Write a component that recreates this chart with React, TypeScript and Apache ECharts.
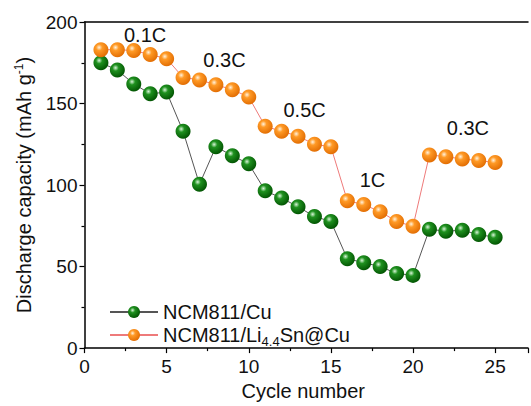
import React, { useEffect, useRef } from "react";
import * as echarts from "echarts";

const cycles = [1, 2, 3, 4, 5, 6, 7, 8, 9, 10, 11, 12, 13, 14, 15, 16, 17, 18, 19, 20, 21, 22, 23, 24, 25];
const cuValues = [175, 170.5, 162, 156, 157, 133, 100.5, 123.5, 118, 113, 96.5, 92, 86.7, 80.7, 77.7, 54.8, 52.4, 50, 45.8, 44.6, 72.9, 71.7, 72.3, 69.6, 68];
const snValues = [183, 183, 182.5, 180, 177.5, 166, 164.5, 161.5, 158.5, 154, 136, 133, 130, 125, 123.5, 90.4, 88, 83.7, 77.7, 74.7, 118.5, 117.4, 116, 115, 113.8];
const rateLabels = ["0.1C", "0.3C", "0.5C", "1C", "0.3C"];
const rateLabelX = [3.69, 8.52, 13.4, 17.53, 23.34];
const rateLabelY = [192, 176.4, 146, 103, 135];
const xTicks = [0, 5, 10, 15, 20, 25];
const yTicks = [0, 50, 100, 150, 200];
const seriesNames = ["NCM811/Cu", "NCM811/Li4.4Sn@Cu"];

const sphere = (light: string, mid: string, dark: string) => ({
  type: "radial",
  x: 0.38,
  y: 0.35,
  r: 0.7,
  colorStops: [
    { offset: 0, color: light },
    { offset: 0.3, color: mid },
    { offset: 1, color: dark },
  ],
});

export default function App() {
  const ref = useRef<HTMLDivElement>(null);
  useEffect(() => {
    if (!ref.current) return;
    const chart = echarts.init(ref.current, null, { renderer: "svg" });
    const font = "Liberation Sans, Arial, sans-serif";
    chart.setOption({
      animation: false,
      grid: { left: 84.5, top: 22, width: 464, height: 330 },
      legend: {
        orient: "vertical",
        left: 104,
        top: 297,
        itemGap: 3,
        itemWidth: 48,
        itemHeight: 15,
        data: seriesNames,
        formatter: (n: string) => (n === seriesNames[1] ? "NCM811/Li{sub|4.4}Sn@Cu" : n),
        textStyle: {
          fontFamily: font,
          fontSize: 20,
          color: "#111",
          rich: {
            sub: { fontFamily: font, fontSize: 13, color: "#111", padding: [12, 0, 0, 0] },
          },
        },
      },
      xAxis: [
        {
          type: "value",
          min: 0,
          max: 27,
          interval: 5,
          name: "Cycle number",
          nameLocation: "middle",
          nameGap: 31,
          nameTextStyle: { fontFamily: font, fontSize: 20, color: "#111", padding: [0, 6, 0, 0] },
          axisLine: { show: true, lineStyle: { color: "#000", width: 1.5 } },
          axisTick: { show: true, inside: false, length: 5, lineStyle: { color: "#000", width: 1.2 } },
          minorTick: { show: true, splitNumber: 2, length: 3, lineStyle: { color: "#000", width: 1.2 } },
          splitLine: { show: false },
          axisLabel: {
            fontFamily: font,
            fontSize: 19,
            color: "#111",
            margin: 9,
            formatter: (v: number) => (xTicks.includes(v) ? String(v) : ""),
          },
        },
        {
          type: "value",
          position: "top",
          min: 0,
          max: 27,
          axisLine: { show: true, lineStyle: { color: "#000", width: 1.5 } },
          axisTick: { show: false },
          axisLabel: { show: false },
          splitLine: { show: false },
        },
      ],
      yAxis: [
        {
          type: "value",
          min: 0,
          max: 200,
          interval: 50,
          name: "Discharge capacity (mAh g{sup|-1})",
          nameLocation: "middle",
          nameGap: 50,
          nameTextStyle: {
            fontFamily: font,
            fontSize: 20,
            color: "#111",
            rich: { sup: { fontFamily: font, fontSize: 12, color: "#111", padding: [0, 0, 10, 0] } },
          },
          axisLine: { show: true, lineStyle: { color: "#000", width: 1.5 } },
          axisTick: { show: true, inside: false, length: 5, lineStyle: { color: "#000", width: 1.2 } },
          minorTick: { show: true, splitNumber: 2, length: 3, lineStyle: { color: "#000", width: 1.2 } },
          splitLine: { show: false },
          axisLabel: {
            fontFamily: font,
            fontSize: 19,
            color: "#111",
            margin: 7,
            formatter: (v: number) => (yTicks.includes(v) ? String(v) : ""),
          },
        },
      ],
      series: [
        {
          name: seriesNames[0],
          type: "line",
          data: cycles.map((c, i) => [c, cuValues[i]]),
          symbol: "circle",
          symbolSize: 15,
          lineStyle: { color: "#555", width: 1 },
          itemStyle: { color: sphere("#d8f5d8", "#1f911f", "#005000") },
          z: 2,
        },
        {
          name: seriesNames[1],
          type: "line",
          data: cycles.map((c, i) => [c, snValues[i]]),
          symbol: "circle",
          symbolSize: 15,
          lineStyle: { color: "#ee7a7a", width: 1 },
          itemStyle: { color: sphere("#fff2dd", "#ff9a26", "#e06a00") },
          z: 3,
          markPoint: {
            symbol: "circle",
            symbolSize: 0,
            label: {
              show: true,
              position: "inside",
              fontFamily: font,
              fontSize: 20,
              color: "#111",
              formatter: (p: any) => p.name,
            },
            data: rateLabels.map((t, i) => ({ name: t, coord: [rateLabelX[i], rateLabelY[i]] })),
          },
        },
      ],
    });
    return () => chart.dispose();
  }, []);
  return <div ref={ref} style={{ position: "absolute", left: 0, top: 0, width: 531, height: 406, background: "#fff" }} />;
}
